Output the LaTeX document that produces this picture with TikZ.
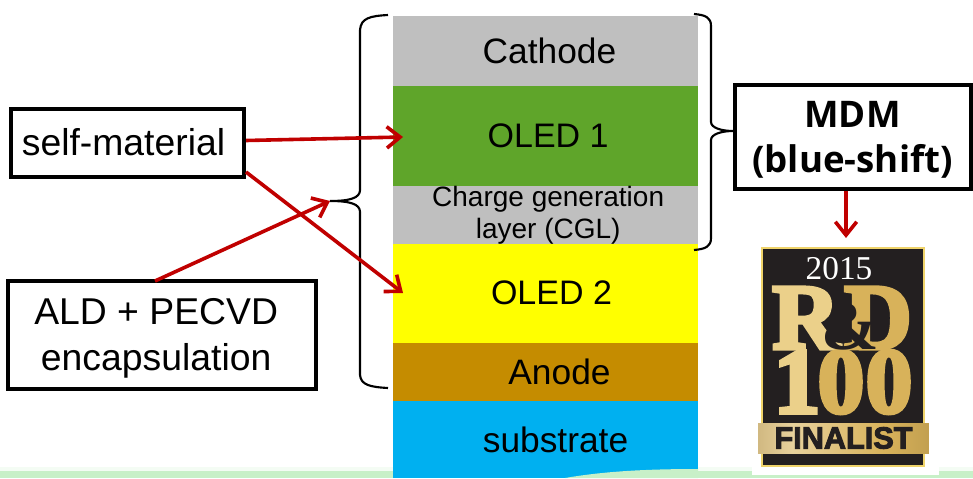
\documentclass[tikz,border=0pt]{standalone}
\usepackage{fontspec}
\setmainfont{Liberation Sans}
\newfontfamily\serifbadge{Liberation Serif}
\newfontfamily\boldlabel{Open Sans}
\usetikzlibrary{positioning, arrows.meta}

\definecolor{cathodegray}{HTML}{BFBFBF}
\definecolor{oledgreen}{HTML}{5FA52A}
\definecolor{oledyellow}{HTML}{FFFF00}
\definecolor{anodebrown}{HTML}{C58C00}
\definecolor{substrateblue}{HTML}{00B0F0}
\definecolor{arrowred}{HTML}{C00000}
\definecolor{bandgreen}{HTML}{C8F0C8}
\definecolor{badgeblack}{HTML}{231F20}
\definecolor{badgeyellow}{HTML}{EFD36A}
\definecolor{badgegold}{HTML}{D8B25A}
\definecolor{badgelight}{HTML}{EBD08A}
\pgfdeclarehorizontalshading{bannergold}{100bp}{color(0bp)=(badgegold!70!black); color(35bp)=(badgegold!60!white); color(62bp)=(badgegold); color(100bp)=(badgegold!70!black)}

\begin{document}
\begin{tikzpicture}[x=0.75pt, y=-0.75pt,
    layer/.style={minimum width=228.75pt, inner sep=0pt, outer sep=0pt, align=center, font=\fontsize{26.5}{30}\selectfont},
    labelbox/.style={draw=black, line width=3pt, fill=white, inner sep=0pt, align=center, font=\fontsize{28}{35}\selectfont},
    redarrow/.style={draw=arrowred, line width=2.7pt, -{Straight Barb[length=10pt, width=16pt, line width=2.7pt]}},
    bracket/.style={draw=black, line width=1.6pt},
    goldtext/.style={text=badgegold, inner sep=0pt, font=\serifbadge\bfseries\fontsize{70}{70}\selectfont,
        execute at begin node={\special{pdf:code 2 Tr 3 w 0.05 0.05 0.05 RG}}}]
    \useasboundingbox (0,0) rectangle (973,478);

    % bottom band
    \fill[bandgreen] (0,471) rectangle (973,478);
    \fill[bandgreen!20!white] (0,467) rectangle (973,471);

    % Define the layers (top to bottom)
    \node[layer, fill=cathodegray, minimum height=52.5pt, anchor=north west] (cathode) at (393,16) {\hspace*{6pt}Cathode};
    \node[layer, fill=oledgreen, minimum height=75pt, below=0pt of cathode, font=\fontsize{25.5}{30}\selectfont] (oled1) {\hspace*{4pt}OLED 1};
    \node[layer, fill=cathodegray, minimum height=43.5pt, below=0pt of oled1, font=\fontsize{21}{24.5}\selectfont] (cgl) {\hspace*{4pt}Charge generation\\\hspace*{4pt}layer (CGL)};
    \node[layer, fill=oledyellow, minimum height=74.25pt, below=-0.75pt of cgl, font=\fontsize{25.5}{30}\selectfont] (oled2) {\hspace*{9pt}OLED 2};
    \node[layer, fill=anodebrown, minimum height=43.5pt, below=0pt of oled2] (anode) {\hspace*{21pt}Anode};
    \node[layer, fill=substrateblue, minimum height=57.75pt, below=0pt of anode, text depth=0pt] (substrate) {\hspace*{15pt}substrate};
    \fill[bandgreen] (698,469) .. controls (640,469) and (600,472) .. (565,478) -- (698,478) -- cycle;

    % Define the label boxes
    \node[labelbox, minimum width=175pt, minimum height=51pt] (selfmat) at (127.5,142.5) {\hspace*{-6pt}self-material};
    \node[labelbox, minimum width=231pt, minimum height=81pt, text depth=-1.5pt] (ald) at (161.5,334.5) {\hspace*{-8pt}ALD + PECVD\\\hspace*{-8pt}encapsulation};
    \node[labelbox, minimum width=177pt, minimum height=78pt, text depth=0pt, font=\boldlabel\bfseries\fontsize{27.5}{33.75}\selectfont] (mdm) at (852.5,136.5) {MDM\\(blue-shift)};

    % Brackets
    \coordinate (lefttip) at (330,201);
    \coordinate (righttip) at (733,131);
    \draw[bracket] (388,15) .. controls (370,16) and (361,18) .. (360,30) -- (360,190) .. controls (360,198) and (350,201) .. (lefttip)
        .. controls (350,201) and (360,204) .. (360,212) -- (360,375) .. controls (361,385) and (370,387) .. (388,388);
    \draw[bracket] (694,14) .. controls (705,15) and (711,17) .. (711,26) -- (711,122) .. controls (711,128) and (722,131) .. (righttip)
        .. controls (722,131) and (711,134) .. (711,140) -- (711,238) .. controls (711,247) and (705,249) .. (694,250);

    % Badge
    \fill[white] (752,244) rectangle (939,475);
    \node[fill=badgeblack, draw=badgeyellow, line width=1.5pt, minimum width=121pt, minimum height=163pt, inner sep=0pt] (badge) at (843,357) {};
    \node[text=white, font=\serifbadge\fontsize{25}{25}\selectfont, inner sep=0pt] (year) at (839,269) {2015};
    \node[goldtext, text=badgelight] (letterr) at (806,318) {R};
    \node[goldtext] (letterd) at (878,318) {D};
    \node[goldtext, text=badgelight] (digita) at (797,382) {1};
    \node[goldtext] (digitb) at (841,382) {0};
    \node[goldtext] (digitc) at (889,382) {0};
    \node[text=badgeblack, inner sep=0pt, font=\serifbadge\bfseries\fontsize{52}{52}\selectfont] (amp) at (850,327) {\&};
    \node[shade, shading=bannergold, minimum width=128pt, minimum height=22.5pt, inner sep=0pt, text=badgeblack, font=\bfseries\fontsize{23}{23}\selectfont,
        execute at begin node={\special{pdf:code 2 Tr 0.7 w}}] (finalist) at (843.5,438) {FINALIST};

    % Define the arrows
    \coordinate (oledonetip) at (403,137);
    \coordinate (oledtwotip) at (403,293);
    \coordinate (aldstart) at (155,281);
    \coordinate (selfcorner) at (246,172);
    \draw[redarrow] (selfmat.east) ++(0,-2) -- (oledonetip);
    \draw[redarrow] (selfcorner) -- (oledtwotip);
    \draw[redarrow] (aldstart) -- (lefttip);
    \draw[redarrow] (mdm.south -| 846,0) -- (846,238);
\end{tikzpicture}
\end{document}
